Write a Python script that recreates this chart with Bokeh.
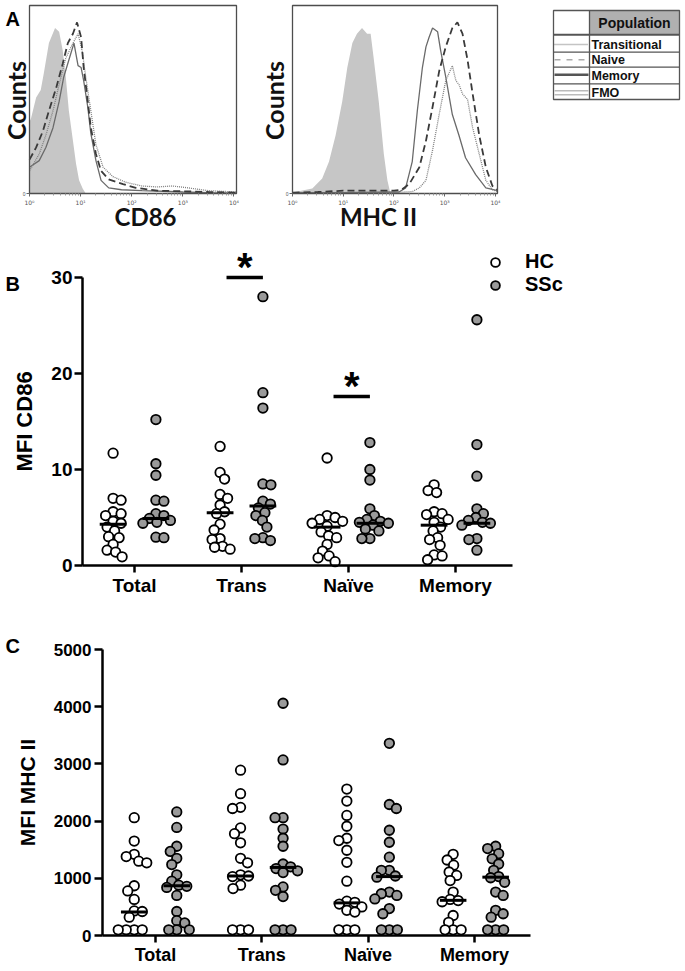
import math
from bokeh.plotting import figure
from bokeh.models import Range1d, FixedTicker, Legend, LegendItem, ColumnDataSource
from bokeh.layouts import column, row
from bokeh.embed import file_html
from bokeh.resources import INLINE
from bokeh.core.properties import value

# ---------------- Panel A : flow histograms (x = log10 intensity, y = % of max count)
cd86_fmo_x = [0.0, 0.03, 0.13, 0.22, 0.28, 0.38, 0.50, 0.58, 0.65, 0.71, 0.77, 0.85, 0.91, 0.97, 1.04, 1.10]
cd86_fmo_y = [38, 40, 51, 55, 64, 80, 88, 86, 76, 62, 44, 28, 16, 7, 2.6, 0]
cd86_mem_x = [0, 0.19, 0.32, 0.46, 0.58, 0.67, 0.77, 0.87, 0.95, 1.01, 1.06, 1.14, 1.20, 1.30, 1.40, 1.55, 1.8, 2.2, 2.6, 3.0, 3.5, 4.05]
cd86_mem_y = [14, 17.5, 24.5, 35, 49, 62, 71, 80, 68, 67, 60, 46, 32, 17.5, 7, 3, 2, 1.5, 1.2, 0.8, 0.5, 0.3]
cd86_nai_x = [0, 0.13, 0.26, 0.38, 0.52, 0.65, 0.75, 0.85, 0.93, 1.01, 1.06, 1.14, 1.20, 1.30, 1.40, 1.55, 1.83, 2.08, 2.5, 3.0, 3.5, 4.05]
cd86_nai_y = [18, 24.5, 33, 44, 56, 69, 80, 85, 91, 83, 67, 49, 35, 21, 12, 7.5, 5, 3, 1.5, 1.2, 0.8, 0.5]
cd86_tra_x = [0, 0.19, 0.32, 0.46, 0.58, 0.71, 0.85, 0.95, 1.03, 1.10, 1.20, 1.30, 1.44, 1.63, 1.88, 2.2, 2.5, 2.8, 3.1, 3.5, 4.05]
cd86_tra_y = [12, 21, 31, 44, 58, 72, 80, 85, 76, 62, 44, 26, 14, 9, 6, 4, 3.5, 4, 3, 1.5, 0.8]

mhc_fmo_x = [0, 0.39, 0.585, 0.72, 0.85, 0.98, 1.08, 1.18, 1.27, 1.37, 1.47, 1.54, 1.60, 1.70, 1.80, 1.87, 1.93]
mhc_fmo_y = [0.5, 2.7, 8, 17, 31, 49, 67, 80, 85, 88, 85, 85, 72, 49, 21, 7, 0]
mhc_mem_x = [0, 1.0, 2.10, 2.23, 2.36, 2.46, 2.56, 2.63, 2.69, 2.76, 2.86, 2.92, 3.02, 3.15, 3.28, 3.41, 3.61, 3.81, 4.04]
mhc_mem_y = [0.5, 0.5, 0.8, 3, 17, 44, 67, 78, 83, 88, 86, 76, 62, 42, 31, 19, 10, 3, 1.5]
mhc_nai_x = [0, 0.5, 1.0, 1.5, 2.0, 2.15, 2.30, 2.50, 2.63, 2.76, 2.89, 3.02, 3.15, 3.25, 3.35, 3.45, 3.55, 3.68, 3.81, 3.94, 4.04]
mhc_nai_y = [0.5, 0.8, 1.5, 1.5, 1.5, 2, 5, 14, 28, 46, 65, 78, 88, 91, 85, 71, 53, 31, 14, 4, 2]
mhc_tra_x = [0, 1.0, 2.0, 2.36, 2.50, 2.63, 2.76, 2.89, 3.02, 3.15, 3.22, 3.28, 3.35, 3.45, 3.55, 3.68, 3.81, 3.94, 4.04]
mhc_tra_y = [0.3, 0.3, 0.5, 1, 3, 7, 23, 42, 60, 68, 60, 58, 53, 50, 35, 21, 7, 2, 1]

decade_labels = ["10⁰", "10¹", "10²", "10³", "10⁴"]
populations = ["Transitional", "Naive", "Memory", "FMO"]

# ---------------- Panels B and C : dot plots
categories = ["Total", "Trans", "Naïve", "Memory"]
groups = ["HC", "SSc"]

cd86_hc = [
    [11.7, 7.0, 6.8, 5.6, 5.4, 5.2, 4.6, 4.4, 4.0, 3.6, 3.0, 2.9, 2.2, 1.6, 1.4, 0.9],
    [12.4, 9.7, 9.0, 7.4, 7.0, 6.3, 5.6, 5.4, 4.3, 3.7, 2.8, 2.7, 2.0, 1.9, 1.7],
    [11.2, 5.2, 5.0, 4.8, 4.6, 4.4, 4.1, 3.5, 3.1, 2.9, 2.2, 1.5, 1.0, 0.8, 0.4],
    [8.4, 7.8, 7.6, 5.6, 5.4, 5.3, 4.8, 4.5, 4.0, 3.6, 2.9, 2.7, 2.1, 1.1, 1.0, 0.6],
]
cd86_ssc = [
    [15.2, 10.6, 9.4, 6.8, 6.7, 5.4, 5.2, 4.9, 4.7, 4.5, 4.4, 2.95, 2.9],
    [28.0, 18.0, 16.4, 8.5, 8.4, 6.7, 6.4, 6.0, 5.5, 5.2, 4.7, 4.0, 2.9, 2.8, 2.6],
    [12.8, 10.0, 8.9, 5.9, 5.2, 4.8, 4.6, 4.5, 4.4, 4.2, 3.8, 3.6, 2.8, 2.8],
    [25.6, 12.6, 9.3, 5.9, 5.4, 5.0, 4.7, 4.5, 4.4, 4.2, 2.8, 2.7, 1.6],
]
cd86_hc_mid = [4.3, 5.5, 4.0, 4.2]
cd86_ssc_mid = [4.9, 6.2, 4.4, 4.4]
cd86_sig_cats = ["Trans", "Naïve"]
cd86_sig_y = [30, 17.6]
cd86_ticks = [0, 10, 20, 30]

mhc_hc = [
    [2060, 1650, 1420, 1380, 1300, 1270, 870, 780, 630, 430, 420, 320, 100, 100, 100, 100],
    [2890, 2480, 2240, 2220, 1880, 1780, 1620, 1350, 1270, 1060, 1040, 1030, 880, 820, 100, 100, 100],
    [2560, 2350, 2100, 1910, 1700, 1660, 1490, 1280, 950, 600, 580, 550, 500, 440, 410, 100, 100, 100],
    [1420, 1320, 1230, 1110, 1050, 960, 760, 630, 610, 590, 350, 230, 100, 100, 100],
]
mhc_ssc = [
    [2160, 1890, 1560, 1470, 1350, 1240, 1060, 950, 880, 860, 840, 700, 420, 260, 220, 100, 100, 100],
    [4060, 3070, 2060, 2060, 1860, 1700, 1560, 1250, 1200, 1170, 1130, 1100, 850, 790, 680, 100, 100, 100],
    [3360, 2290, 2220, 1840, 1630, 1370, 1140, 1140, 1040, 1020, 760, 730, 700, 640, 470, 380, 100, 100, 100],
    [1560, 1520, 1430, 1340, 1250, 1140, 1030, 1010, 930, 760, 700, 440, 380, 320, 100, 100, 100],
]
mhc_hc_mid = [410, 1040, 570, 615]
mhc_ssc_mid = [870, 1190, 1030, 1020]
mhc_ticks = [0, 1000, 2000, 3000, 4000, 5000]

FONT = "Liberation Sans"
HFONT = "Lato"


class Geo:
    """Maps page pixels to data for a figure whose frame fills its whole canvas."""

    def __init__(self, ox, oy, w, h, xa, rxa, sx, ya, rya, sy):
        self.ox, self.oy, self.w, self.h = ox, oy, w, h
        self.xa, self.rxa, self.sx, self.ya, self.rya, self.sy = xa, rxa, sx, ya, rya, sy

    def xrange(self):
        return Range1d(self.xa - (self.rxa - self.ox) / self.sx, self.xa + (self.ox + self.w - self.rxa) / self.sx)

    def yrange(self):
        return Range1d(self.ya - (self.oy + self.h - self.rya) / self.sy, self.ya + (self.rya - self.oy) / self.sy)

    def x(self, rx):
        return self.xa + (rx - self.rxa) / self.sx

    def y(self, ry):
        return self.ya + (self.rya - ry) / self.sy


def base_fig(g):
    p = figure(width=g.w, height=g.h, x_range=g.xrange(), y_range=g.yrange(), min_border=0,
               toolbar_location=None, output_backend="svg")
    p.grid.visible = False
    p.outline_line_color = None
    p.background_fill_color = "white"
    p.border_fill_color = "white"
    return p


def add_text(p, x, y, txt, size, font=FONT, align="left", baseline="middle", angle=0.0, color="black"):
    p.text(x=[x], y=[y], text=[txt], angle=angle, text_align=align, text_baseline=baseline,
           text_font=value(font), text_font_style="bold", text_font_size=size, text_color=color)


# ======================= Panel A =======================
TOP_H = 236


def make_hist(g, xmax, fmo, curves, xlabel, xlabel_rx, counts_rx, letter=False):
    p = base_fig(g)
    fx, fy = fmo
    p.varea(x=fx, y1=[0] * len(fx), y2=fy, fill_color="#c6c6c6")
    for xs, ys, col, lw, dash in curves:
        p.line(xs, ys, line_color=col, line_width=lw, line_dash=dash)
    p.quad(left=[0], right=[xmax], bottom=[0], top=[100], fill_color=None,
           line_color="#4d4d4d", line_width=1.3)
    xa = p.xaxis[0]
    xa.fixed_location = 0
    xa.bounds = (0, xmax)
    minor = [d + math.log10(k) for d in range(4) for k in range(2, 10)]
    xa.ticker = FixedTicker(ticks=[0, 1, 2, 3, 4], minor_ticks=minor)
    xa.major_label_overrides = {i: lab for i, lab in enumerate(decade_labels)}
    xa.major_label_text_font = "DejaVu Sans"
    xa.major_label_text_font_size = "6px"
    xa.major_label_text_color = "#555555"
    xa.major_label_standoff = 2
    xa.axis_line_color = None
    xa.major_tick_out = 3
    xa.major_tick_in = 0
    xa.minor_tick_out = 2
    xa.minor_tick_in = 0
    xa.major_tick_line_color = "#666666"
    xa.minor_tick_line_color = "#999999"
    ya = p.yaxis[0]
    ya.fixed_location = 0
    ya.bounds = (0, 100)
    ya.ticker = FixedTicker(ticks=[0])
    ya.axis_line_color = None
    ya.major_tick_out = 3
    ya.major_tick_in = 0
    ya.major_tick_line_color = "#666666"
    ya.minor_tick_line_color = None
    ya.major_label_text_font_size = "5px"
    ya.major_label_text_color = "#555555"
    ya.major_label_standoff = 1
    add_text(p, g.x(counts_rx), g.y(100), "Counts", "25px", font=HFONT, align="center",
             angle=math.pi / 2, color="#111111")
    add_text(p, g.x(xlabel_rx), g.y(216), xlabel, "24px", font=HFONT, align="center", color="#111111")
    if letter:
        add_text(p, g.x(5), g.y(18.5), "A", "20px")
    return p


gA1 = Geo(0, 0, 250, TOP_H, 0, 29, 207 / 4.05, 0, 193, 1.88)
gA2 = Geo(250, 0, 255, TOP_H, 0, 292, 205 / 4.04, 0, 193, 1.88)
pA1 = make_hist(gA1, 4.05, (cd86_fmo_x, cd86_fmo_y),
                [(cd86_mem_x, cd86_mem_y, "#6a6a6a", 1.3, "solid"),
                 (cd86_tra_x, cd86_tra_y, "#808080", 1.3, "1 1"),
                 (cd86_nai_x, cd86_nai_y, "#3a3a3a", 1.8, "7 4")],
                "CD86", 145, 15, letter=True)
pA2 = make_hist(gA2, 4.04, (mhc_fmo_x, mhc_fmo_y),
                [(mhc_mem_x, mhc_mem_y, "#6a6a6a", 1.3, "solid"),
                 (mhc_tra_x, mhc_tra_y, "#808080", 1.3, "1 1"),
                 (mhc_nai_x, mhc_nai_y, "#3a3a3a", 1.8, "7 4")],
                "MHC II", 378, 273)

# legend table (drawn in page-pixel coordinates)
pL = figure(width=179, height=TOP_H, x_range=Range1d(505, 684), y_range=Range1d(TOP_H, 0),
            min_border=0, toolbar_location=None, output_backend="svg")
pL.axis.visible = False
pL.grid.visible = False
pL.outline_line_color = None
tl, tr, tt, tb, tdiv = 553, 679, 10, 99, 589
row_lines = [34.3, 51.7, 66.7, 83.3]
row_mid = [44.0, 59.3, 75.3, 92.0]
pL.quad(left=[tdiv], right=[tr], top=[tt], bottom=[row_lines[0]], fill_color="#b0b0b0", line_color=None)
pL.segment(x0=[tl] * 4, x1=[tr] * 4, y0=row_lines, y1=row_lines,
           line_color="#555555", line_width=[2.0, 1.2, 1.2, 1.2])
pL.quad(left=[tl], right=[tr], top=[tt], bottom=[tb], fill_color=None, line_color="#555555", line_width=1.3)
pL.segment(x0=[tdiv], x1=[tdiv], y0=[tt], y1=[tb], line_color="#555555", line_width=1.3)
pL.text(x=[(tdiv + tr) / 2], y=[22.5], text=["Population"], text_align="center", text_baseline="middle",
        text_font=value(FONT), text_font_style="bold", text_font_size="14px", text_color="#111111")
pL.text(x=[tdiv + 2] * 4, y=row_mid, text=populations, text_align="left", text_baseline="middle",
        text_font=value(FONT), text_font_style="bold", text_font_size="12.5px", text_color="#111111")
pL.segment(x0=[tl + 1], x1=[tdiv - 1], y0=[row_mid[0]], y1=[row_mid[0]], line_color="#888888", line_width=1.4, line_dash="1 1")
pL.segment(x0=[tl + 1], x1=[tdiv - 1], y0=[row_mid[1]], y1=[row_mid[1]], line_color="#aaaaaa", line_width=1.4, line_dash="6 6")
pL.segment(x0=[tl + 1], x1=[tdiv - 1], y0=[row_mid[2] - 1], y1=[row_mid[2] - 1], line_color="#555555", line_width=2.6)
pL.segment(x0=[tl + 1, tl + 1], x1=[tdiv - 1, tdiv - 1], y0=[row_mid[3] - 1.8, row_mid[3] + 2.2],
           y1=[row_mid[3] - 1.8, row_mid[3] + 2.2], line_color="#bbbbbb", line_width=1.5)


# ======================= Panels B and C =======================
def swarm_offsets(vals, ypx, d=8.0, step=0.5):
    placed, offs = [], []
    for i, v in enumerate(vals):
        yp = v * ypx
        k, chosen = 0, None
        while chosen is None:
            if k == 0:
                cands = [0.0]
            else:
                s = k * step
                cands = [s, -s] if i % 2 == 0 else [-s, s]
            for c in cands:
                if all((c - ox) ** 2 + (yp - oy) ** 2 >= d * d for ox, oy in placed):
                    chosen = c
                    break
            k += 1
        placed.append((chosen, yp))
        offs.append(chosen)
    return offs


def group_source(data, side, xpx, ypx):
    xs, ys = [], []
    for ci, vals in enumerate(data):
        offs = swarm_offsets(vals, ypx)
        for v, o in zip(vals, offs):
            xs.append(ci + 1 + side + o / xpx)
            ys.append(v)
    return ColumnDataSource(dict(x=xs, y=ys))


def make_dot(g, yaxis_rx, xend, ybounds, ticks, hc, ssc, hc_mid, ssc_mid,
             ylabel, tick_fs, cat_fs, ylab_fs, ylab_standoff, tick_standoff):
    p = base_fig(g)
    xstart = g.x(yaxis_rx)
    r_hc = p.scatter("x", "y", source=group_source(hc, -0.2, g.sx, g.sy), size=9.5,
                     fill_color="white", line_color="black", line_width=1.8)
    r_ssc = p.scatter("x", "y", source=group_source(ssc, 0.2, g.sx, g.sy), size=9.5,
                      fill_color="#9a9a9a", line_color="black", line_width=1.8)
    pos = [i + 1 for i in range(len(categories))]
    half = 0.125
    p.segment(x0=[q - 0.2 - half for q in pos], x1=[q - 0.2 + half for q in pos], y0=hc_mid, y1=hc_mid,
              line_color="black", line_width=3)
    p.segment(x0=[q + 0.2 - half for q in pos], x1=[q + 0.2 + half for q in pos], y0=ssc_mid, y1=ssc_mid,
              line_color="black", line_width=3)
    xa = p.xaxis[0]
    xa.fixed_location = 0
    xa.ticker = FixedTicker(ticks=pos)
    xa.major_label_overrides = {q: c for q, c in zip(pos, categories)}
    xa.bounds = (xstart, xend)
    xa.axis_line_width = 2.5
    xa.axis_line_color = "black"
    xa.major_tick_line_width = 2.5
    xa.major_tick_out = 7
    xa.major_tick_in = 0
    xa.minor_tick_line_color = None
    xa.major_label_text_font = FONT
    xa.major_label_text_font_style = "bold"
    xa.major_label_text_font_size = f"{cat_fs}px"
    xa.major_label_text_color = "black"
    xa.major_label_standoff = 2
    ya = p.yaxis[0]
    ya.fixed_location = xstart
    ya.ticker = FixedTicker(ticks=ticks)
    ya.bounds = ybounds
    ya.axis_line_width = 2.5
    ya.axis_line_color = "black"
    ya.major_tick_line_width = 2.5
    ya.major_tick_out = 8
    ya.major_tick_in = 0
    ya.minor_tick_line_color = None
    ya.major_label_text_font = FONT
    ya.major_label_text_font_style = "bold"
    ya.major_label_text_font_size = f"{tick_fs}px"
    ya.major_label_text_color = "black"
    ya.major_label_standoff = tick_standoff
    ya.axis_label = ylabel
    ya.axis_label_text_font = FONT
    ya.axis_label_text_font_style = "bold"
    ya.axis_label_text_font_size = f"{ylab_fs}px"
    ya.axis_label_text_color = "black"
    ya.axis_label_standoff = ylab_standoff
    return p, r_hc, r_ssc


# ---- Panel B
gB = Geo(0, TOP_H, 684, 608 - TOP_H, 1, 134, 107.0, 0, 565, 9.6)
pB, rB_hc, rB_ssc = make_dot(gB, 82, 4.53, (0, 30), cd86_ticks, cd86_hc, cd86_ssc,
                             cd86_hc_mid, cd86_ssc_mid, "MFI CD86", 19, 19, 22, 11, 2)
sig_x = [categories.index(c) + 1 for c in cd86_sig_cats]
pB.segment(x0=[q - 0.14 for q in sig_x], x1=[q + 0.2 for q in sig_x], y0=cd86_sig_y, y1=cd86_sig_y,
           line_color="black", line_width=3.5)
pB.text(x=[q + 0.03 for q in sig_x], y=[v + 11 / gB.sy for v in cd86_sig_y], text=["*"] * len(sig_x),
        text_align="center", text_baseline="middle", text_font=value(FONT), text_font_style="bold",
        text_font_size="40px", text_color="black")
add_text(pB, gB.x(5), gB.y(283), "B", "20px")
legB = Legend(items=[LegendItem(label=groups[0], renderers=[rB_hc]),
                     LegendItem(label=groups[1], renderers=[rB_ssc])],
              location=(483, 608 - 296), orientation="vertical", glyph_width=24, glyph_height=22,
              label_height=20, label_standoff=18, spacing=-4, padding=0, margin=0, border_line_color=None,
              background_fill_alpha=0, label_text_font=FONT, label_text_font_style="bold",
              label_text_font_size="20px", label_text_color="black")
pB.add_layout(legB)

# ---- Panel C
gC = Geo(0, 608, 684, 362, 1, 155, 106.3, 0, 935, 286 / 5000)
pC, rC_hc, rC_ssc = make_dot(gC, 102, 4.526, (0, 5000), mhc_ticks, mhc_hc, mhc_ssc,
                             mhc_hc_mid, mhc_ssc_mid, "MFI MHC II", 17, 18, 21, 12, 3)
add_text(pC, gC.x(5), gC.y(645), "C", "20px")

layout = column(row(pA1, pA2, pL), pB, pC)
open("out.html", "w").write(file_html(layout, INLINE))
